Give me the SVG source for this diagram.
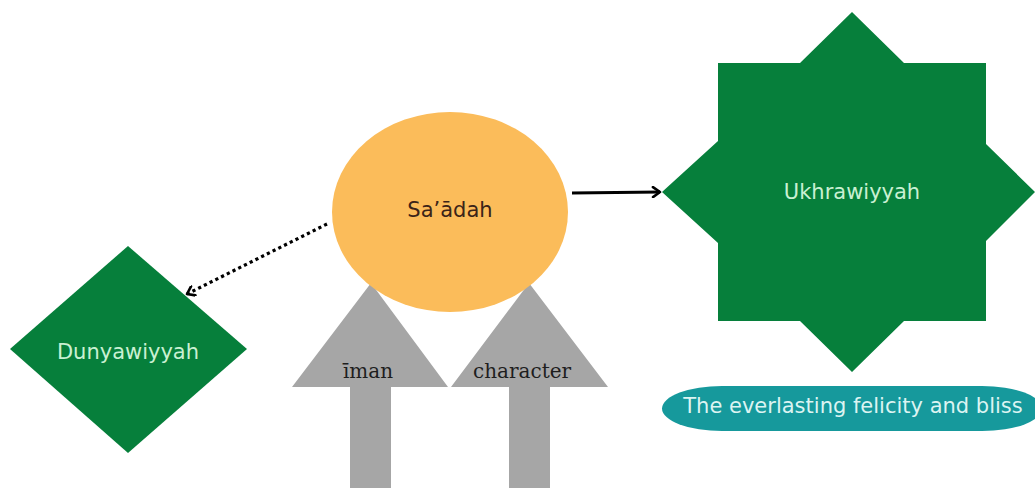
<svg xmlns="http://www.w3.org/2000/svg" width="1035" height="488" viewBox="0 0 1035 488">
<style>
.green{fill:#067f3b}
.gray{fill:#a6a6a6}
.lbl{font-family:"DejaVu Sans","Liberation Sans",sans-serif;font-size:21px;text-anchor:middle;dominant-baseline:central}
.ser{font-family:"DejaVu Serif","Liberation Serif",serif;font-size:20px;fill:#1e1e1e;text-anchor:middle;dominant-baseline:central}
</style>
<defs>
<marker id="chev" markerWidth="12" markerHeight="12" refX="10" refY="6" orient="auto" markerUnits="userSpaceOnUse">
<path d="M3,1 L10,6 L3,11" fill="none" stroke="#000" stroke-width="2.6" stroke-linecap="round" stroke-linejoin="round"/>
</marker>
</defs>
<rect width="1035" height="488" fill="#fff"/>
<g id="iman">
<polygon class="gray" points="371,283 448,387 391,387 391,488 350,488 350,387 292,387"/>
<text class="ser" x="368" y="371">īman</text>
</g>
<g id="character">
<polygon class="gray" points="529,283 608,387 550,387 550,488 509,488 509,387 451,387"/>
<text class="ser" x="522" y="371">character</text>
</g>
<g id="saadah">
<ellipse cx="450" cy="212" rx="118" ry="100" fill="#fbbc5a"/>
<text class="lbl" x="450" y="210" fill="#3b2418">Sa’ādah</text>
</g>
<g id="ukhrawiyyah">
<polygon class="green" points="852,12 904,63 986,63 986,144 1035,192 986,241 986,321 904,321 852,372 800,321 718,321 718,243 662,192 718,141 718,63 800,63"/>
<text class="lbl" x="852" y="192" fill="#c9f0d2">Ukhrawiyyah</text>
</g>
<g id="dunyawiyyah">
<polygon class="green" points="128,246 247,349 128,453 10,349"/>
<text class="lbl" x="128" y="352" fill="#c9f0d2">Dunyawiyyah</text>
</g>
<g id="felicity">
<rect x="662" y="386" width="380" height="45" rx="60" ry="22.5" fill="#16999c"/>
<text class="lbl" x="853" y="406" fill="#dcf4f2">The everlasting felicity and bliss</text>
</g>
<g id="connectors">
<line x1="572" y1="193" x2="660" y2="192" stroke="#000" stroke-width="3" marker-end="url(#chev)"/>
<line x1="327" y1="224" x2="187" y2="294" stroke="#000" stroke-width="3.2" stroke-dasharray="3.2 3.2" marker-end="url(#chev)"/>
</g>
</svg>
